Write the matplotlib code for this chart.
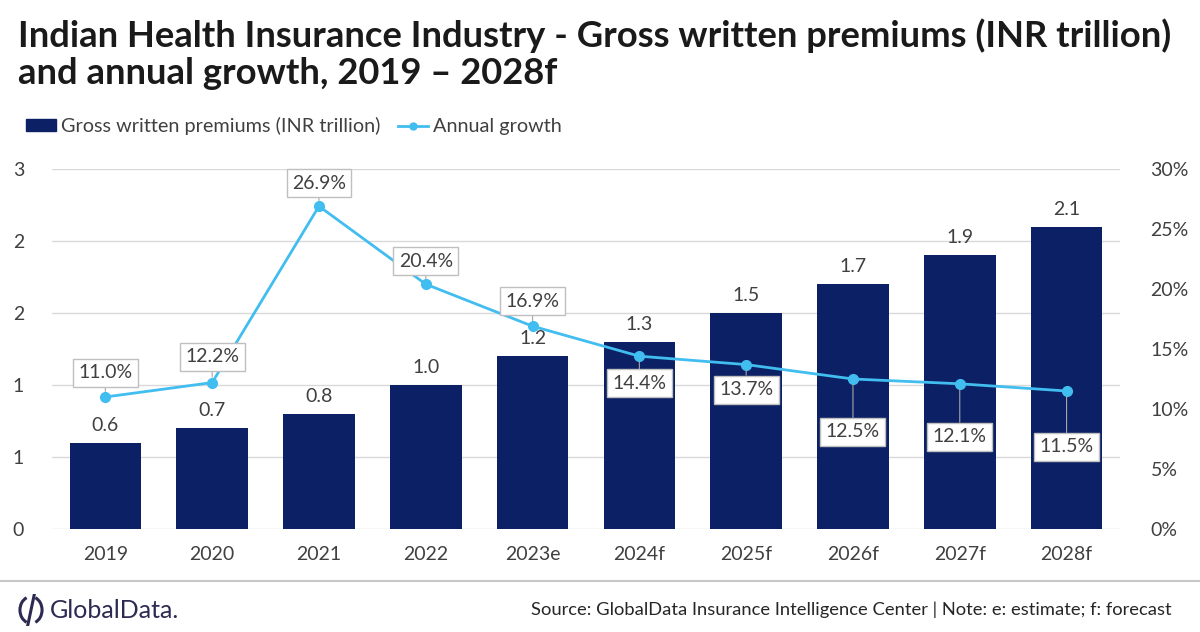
import numpy as np
import matplotlib.pyplot as plt
from matplotlib.lines import Line2D
from matplotlib.patches import Arc

years = ['2019', '2020', '2021', '2022', '2023e', '2024f', '2025f', '2026f', '2027f', '2028f']
premiums = [0.6, 0.7, 0.8, 1.0, 1.2, 1.3, 1.5, 1.7, 1.9, 2.1]
growth = [11.0, 12.2, 26.9, 20.4, 16.9, 14.4, 13.7, 12.5, 12.1, 11.5]
left_ticks = [0, 0.5, 1.0, 1.5, 2.0, 2.5]
left_tick_labels = ['0', '1', '1', '2', '2', '3']
right_ticks = [0, 5, 10, 15, 20, 25, 30]

navy = '#0b2065'
blue = '#41bdf0'
grey_txt = '#404040'

plt.rcParams['font.family'] = ['Lato', 'DejaVu Sans']

fig = plt.figure(figsize=(12, 6.32), dpi=100)
ax = fig.add_axes([0.0433, 0.163, 0.89, 0.5696])
x = np.arange(len(years))

ax.bar(x, premiums, width=0.67, color=navy, zorder=2)
ax.set_xlim(-0.5, len(years) - 0.5)
ax.set_ylim(0, 2.5)
ax.set_yticks(left_ticks)
ax.set_yticklabels(left_tick_labels)
ax.set_xticks(x)
ax.set_xticklabels(years)
ax.yaxis.grid(True, color='#d9d9d9', lw=1, zorder=0)
ax.set_axisbelow(True)
for s in ax.spines.values():
    s.set_visible(False)
ax.tick_params(axis='both', length=0, labelsize=14, colors=grey_txt)
ax.tick_params(axis='y', pad=20)
ax.tick_params(axis='x', pad=12)

for xi, v in zip(x, premiums):
    ax.annotate(f'{v:.1f}', (xi, v), xytext=(0, 9), textcoords='offset pixels',
                ha='center', va='bottom', fontsize=14, color=grey_txt)

ax2 = ax.twinx()
ax2.set_ylim(0, 30)
ax2.set_yticks(right_ticks)
ax2.set_yticklabels([f'{t}%' for t in right_ticks])
for s in ax2.spines.values():
    s.set_visible(False)
ax2.tick_params(axis='y', length=0, labelsize=14, colors=grey_txt, pad=22)
ax2.plot(x, growth, color=blue, lw=2, marker='o', ms=7, zorder=3)

# label offsets (pixels) for the growth points
offs = [24, 26, 23, 23, 25, -27, -25, -53, -53, -56]
for xi, g, dy in zip(x, growth, offs):
    ax2.annotate(f'{g:.1f}%', (xi, g), xytext=(0, dy), textcoords='offset pixels',
                 ha='center', va='center', fontsize=14, color=grey_txt,
                 bbox=dict(boxstyle='square,pad=0.28', fc='white', ec='#bfbfbf', lw=1),
                 arrowprops=dict(arrowstyle='-', color='#a6a6a6', lw=0.8,
                                 shrinkA=0, shrinkB=4))

# title
fig.text(18 / 1200, 1 - 36 / 632, 'Indian Health Insurance Industry - Gross written premiums (INR trillion)',
         fontsize=26.2, fontweight='bold', color='#1a1a1a', va='center', ha='left')
fig.text(18 / 1200, 1 - 74 / 632, 'and annual growth, 2019 \u2013 2028f',
         fontsize=26.2, fontweight='bold', color='#1a1a1a', va='center', ha='left')

# legend
handles = [plt.Rectangle((0, 0), 1, 1, color=navy),
           Line2D([0], [0], color=blue, lw=2, marker='o', ms=5)]
fig.legend(handles, ['Gross written premiums (INR trillion)', 'Annual growth'],
           loc='center left', bbox_to_anchor=(8 / 1200, 1 - 126 / 632), ncol=2,
           frameon=False, fontsize=14.3, handlelength=1.5, handleheight=0.55,
           handletextpad=0.25, columnspacing=0.9, labelcolor=grey_txt)

# footer
fig.add_artist(Line2D([0, 1], [1 - 581 / 632] * 2, color='#c8c8c8', lw=1.5))
lax = fig.add_axes([18 / 1200, 1 - 626 / 632, 26 / 1200, 32 / 632])
lax.set_xlim(-1, 1)
lax.set_ylim(-1.2, 1.2)
lax.axis('off')
lax.add_patch(Arc((0, 0), 1.7, 2.0, theta1=110, theta2=250, color='#2d2a52', lw=2.2))
lax.add_patch(Arc((0, 0), 1.7, 2.0, theta1=-70, theta2=70, color='#2d2a52', lw=2.2))
lax.plot([0.25, -0.25], [1.15, -1.15], color='#2d2a52', lw=2.2)
fig.text(50 / 1200, 1 - 610 / 632, 'GlobalData.', fontsize=18, color='#2d2a52',
         va='center', ha='left')
fig.text(1172 / 1200, 1 - 610 / 632,
         'Source: GlobalData Insurance Intelligence Center | Note: e: estimate; f: forecast',
         fontsize=13.2, color='#262626', va='center', ha='right')

fig.savefig('out.png', dpi=100)
